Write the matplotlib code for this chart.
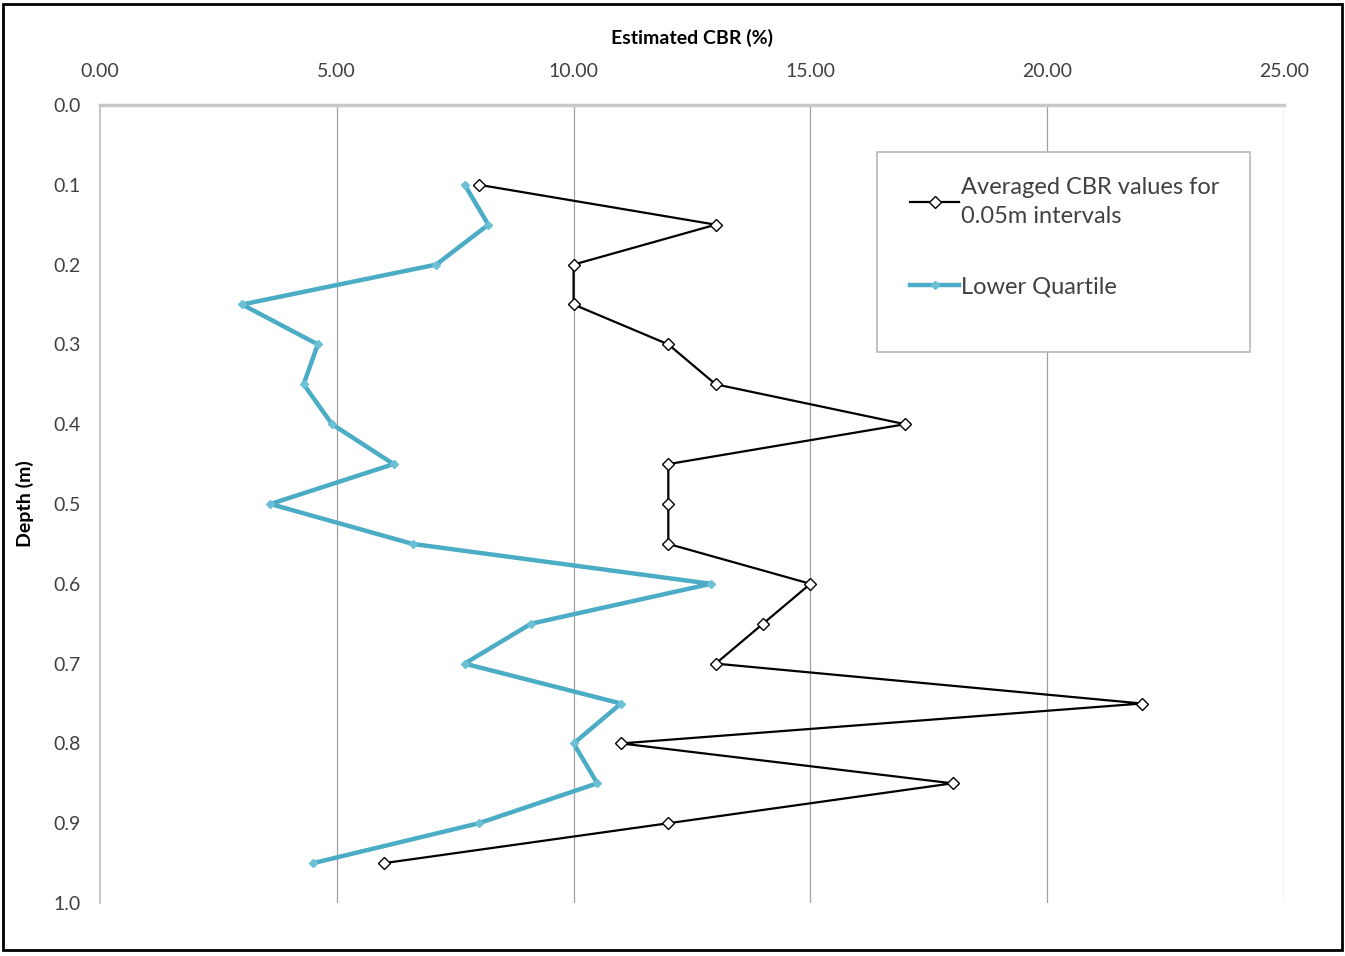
import matplotlib
matplotlib.use("Agg")
import matplotlib.pyplot as plt
import numpy as np

plt.rcParams['font.family'] = ['Lato', 'DejaVu Sans']

# depth (m) and CBR values
depth = [0.10, 0.15, 0.20, 0.25, 0.30, 0.35, 0.40, 0.45, 0.50,
         0.55, 0.60, 0.65, 0.70, 0.75, 0.80, 0.85, 0.90, 0.95]
avg_cbr = [8.0, 13.0, 10.0, 10.0, 12.0, 13.0, 17.0, 12.0, 12.0,
           12.0, 15.0, 14.0, 13.0, 22.0, 11.0, 18.0, 12.0, 6.0]
lower_q = [7.7, 8.2, 7.1, 3.0, 4.6, 4.3, 4.9, 6.2, 3.6,
           6.6, 12.9, 9.1, 7.7, 11.0, 10.0, 10.5, 8.0, 4.5]

x_ticks = [0, 5, 10, 15, 20, 25]
y_ticks = [0.0, 0.1, 0.2, 0.3, 0.4, 0.5, 0.6, 0.7, 0.8, 0.9, 1.0]

fig = plt.figure(figsize=(13.45, 9.56), dpi=100)
ax = fig.add_axes([0.0743, 0.0554, 0.8804, 0.8348])

ax.plot(avg_cbr, depth, color='black', lw=1.6, marker='D', ms=6,
        mfc='white', mec='black', mew=1.0,
        label='Averaged CBR values for\n0.05m intervals', zorder=3)
ax.plot(lower_q, depth, color='#4BACC6', lw=3.2, marker='D', ms=4,
        mfc='#6cc0d6', mec='#6cc0d6',
        label='Lower Quartile', zorder=2)

ax.set_xlim(0, 25)
ax.set_ylim(1.0, 0.0)
ax.xaxis.tick_top()
ax.xaxis.set_label_position('top')
ax.set_xticks(x_ticks)
ax.set_xticklabels(['%.2f' % v for v in x_ticks])
ax.set_yticks(y_ticks)
ax.set_yticklabels(['%.1f' % v for v in y_ticks])
ax.tick_params(axis='x', length=0, labelsize=14, colors='#404040', pad=18)
ax.tick_params(axis='y', length=0, labelsize=14, colors='#404040', pad=14)

ax.set_xlabel('Estimated CBR (%)', fontsize=14, fontweight='bold', labelpad=14)
ax.set_ylabel('Depth (m)', fontsize=14, fontweight='bold', labelpad=14)

for x in x_ticks[1:]:
    ax.axvline(x, color='#a0a0a0', lw=0.9, zorder=1)

for s in ['right', 'bottom']:
    ax.spines[s].set_visible(False)
ax.spines['left'].set_color('#c8c8c8')
ax.spines['left'].set_linewidth(1.5)
ax.spines['top'].set_color('#c8c8c8')
ax.spines['top'].set_linewidth(2.5)

# legend box drawn separately, entries placed inside it
ax.add_patch(plt.Rectangle((0.656, 0.690), 0.315, 0.251, transform=ax.transAxes,
                           facecolor='white', edgecolor='#b8b8b8', lw=1.2, zorder=4))
leg = ax.legend(loc='upper left', bbox_to_anchor=(0.674, 0.924), fontsize=17,
                frameon=False, handlelength=2.1, handletextpad=0.05,
                labelspacing=2.1, borderpad=0, labelcolor='#404040')
leg.get_texts()[0].set_linespacing(1.45)
leg.set_zorder(5)

# outer frame of the picture
fig.patches.append(plt.Rectangle((0.002, 0.006), 0.996, 0.99, transform=fig.transFigure,
                                 fill=False, edgecolor='black', lw=2))

fig.savefig('out.png', dpi=100)
